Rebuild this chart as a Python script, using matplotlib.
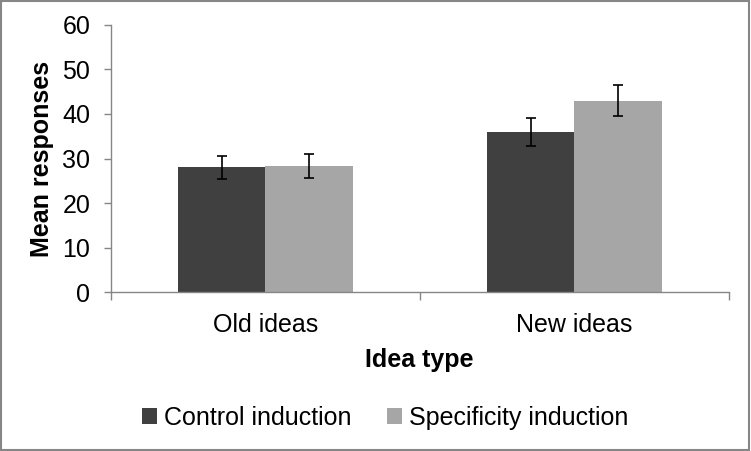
import matplotlib
matplotlib.use("Agg")
import matplotlib.pyplot as plt
from matplotlib.patches import Rectangle
import numpy as np

categories = ["Old ideas", "New ideas"]
series_names = ["Control induction", "Specificity induction"]
control_means = [28.0, 36.0]
control_err = [2.6, 3.2]
specificity_means = [28.3, 43.0]
specificity_err = [2.7, 3.5]
yticks = [0, 10, 20, 30, 40, 50, 60]

plt.rcParams['font.family'] = ['Liberation Sans', 'DejaVu Sans']
FS = 18

fig = plt.figure(figsize=(7.51, 4.51), dpi=100)
ax = fig.add_axes([0.1478, 0.3525, 0.8229, 0.5921])

x = np.arange(len(categories))
w = 0.283
dark = "#404040"
light = "#A6A6A6"
ax.bar(x - w/2, control_means, w, color=dark, label=series_names[0], zorder=2)
ax.bar(x + w/2, specificity_means, w, color=light, label=series_names[1], zorder=2)
ax.errorbar(x - w/2, control_means, yerr=control_err, fmt='none', ecolor='black',
            elinewidth=1.2, capsize=3.5, capthick=1.2, zorder=3)
ax.errorbar(x + w/2, specificity_means, yerr=specificity_err, fmt='none', ecolor='black',
            elinewidth=1.2, capsize=3.5, capthick=1.2, zorder=3)

ax.set_xlim(-0.5, 1.5)
ax.set_ylim(0, 60)
ax.set_yticks(yticks)
ax.set_yticklabels([str(t) for t in yticks], fontsize=FS)
ax.set_xticks(x)
ax.set_xticklabels(categories, fontsize=FS)
ax.set_xticks([-0.5, 0.5, 1.5], minor=True)
ax.tick_params(axis='x', which='major', length=0, pad=15)
ax.tick_params(axis='x', which='minor', length=6, direction='out', color='#868686', width=1)
ax.tick_params(axis='y', length=5, direction='out', color='#868686', width=1, pad=10)

for s in ['top', 'right']:
    ax.spines[s].set_visible(False)
for s in ['left', 'bottom']:
    ax.spines[s].set_color('#868686')
    ax.spines[s].set_linewidth(1)

ax.set_ylabel("Mean responses", fontsize=FS, fontweight='bold')
ax.yaxis.set_label_coords(-0.092, 0.5)
ax.set_xlabel("Idea type", fontsize=FS, fontweight='bold')
ax.xaxis.set_label_coords(0.498, -0.208)

fig.legend(loc='center', bbox_to_anchor=(0.513, 1 - 418/451), ncol=2, frameon=False,
           fontsize=FS, handlelength=0.6, handleheight=0.6, handletextpad=0.3,
           columnspacing=1.4)

fig.patches.append(Rectangle((0.001, 0.002), 0.997, 0.996, transform=fig.transFigure,
                             fill=False, edgecolor='#868686', linewidth=1.5))

fig.savefig("out.png", dpi=100)
